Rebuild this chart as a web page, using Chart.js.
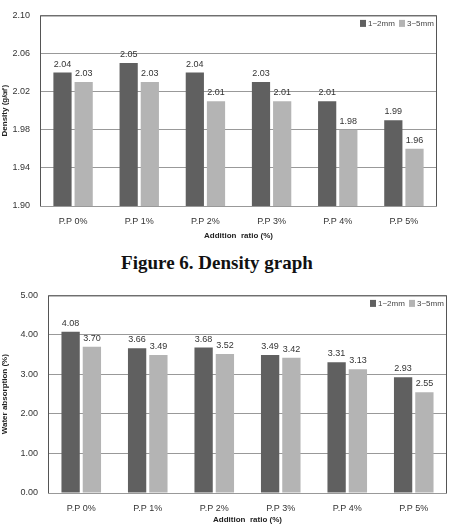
<!DOCTYPE html>
<html>
<head>
<meta charset="utf-8">
<script src="https://cdn.jsdelivr.net/npm/chart.js@4.4.0/dist/chart.umd.min.js"></script>
<style>
    body { margin: 0; background: #fff; width: 451px; height: 529px; position: relative; overflow: hidden; }
    .box { position: absolute; left: 0; width: 451px; }
    #caption { position: absolute; left: 0; width: 434px; top: 252px; text-align: center;
        font-family: "Liberation Serif", "Times New Roman", serif; font-weight: bold; font-size: 19px; color: #111; }
</style>
</head>
<body>
<div class="box" style="top:0;height:245px"><canvas id="densityChart" width="451" height="245"></canvas></div>
<div id="caption">Figure 6. Density graph</div>
<div class="box" style="top:280px;height:249px"><canvas id="waterChart" width="451" height="249"></canvas></div>
<script>
// 数据
const categories = ['P.P 0%', 'P.P 1%', 'P.P 2%', 'P.P 3%', 'P.P 4%', 'P.P 5%'];
const seriesNames = ['1~2mm', '3~5mm'];
const densitySmall = [2.04, 2.05, 2.04, 2.03, 2.01, 1.99];
const densityLarge = [2.03, 2.03, 2.01, 2.01, 1.98, 1.96];
const densityTicks = [1.90, 1.94, 1.98, 2.02, 2.06, 2.10];
const waterSmall = [4.08, 3.66, 3.68, 3.49, 3.31, 2.93];
const waterLarge = [3.70, 3.49, 3.52, 3.42, 3.13, 2.55];
const waterTicks = [0, 1, 2, 3, 4, 5];

const DARK = '#606060';
const LIGHT = '#b4b4b4';
const FONT = '"Liberation Sans", Arial, sans-serif';

// 柱顶数值标签 + 图框 + 图例（画在绘图区右上角）
const barLabels = {
    id: 'barLabels',
    afterDatasetsDraw(chart) {
        const ctx = chart.ctx;
        const a = chart.chartArea;
        ctx.save();
        ctx.font = '9px ' + FONT;
        ctx.fillStyle = '#333';
        ctx.textAlign = 'center';
        ctx.textBaseline = 'bottom';
        chart.data.datasets.forEach((ds, i) => {
            chart.getDatasetMeta(i).data.forEach((bar, j) => {
                ctx.fillText(ds.data[j].toFixed(2), bar.x, bar.y - 4);
            });
        });
        // 图框
        ctx.strokeStyle = '#555';
        ctx.lineWidth = 1;
        ctx.beginPath();
        ctx.moveTo(a.left + 0.5, a.bottom);
        ctx.lineTo(a.left + 0.5, a.top + 0.5);
        ctx.lineTo(a.right - 0.5, a.top + 0.5);
        ctx.lineTo(a.right - 0.5, a.bottom);
        ctx.stroke();
        // 图例
        ctx.font = '8px ' + FONT;
        ctx.textAlign = 'left';
        ctx.textBaseline = 'middle';
        let x = a.right - 77;
        const y = a.top + 8;
        chart.data.datasets.forEach(ds => {
            ctx.fillStyle = ds.backgroundColor;
            ctx.fillRect(x, y - 3.5, 6, 7);
            ctx.fillStyle = '#444';
            ctx.fillText(ds.label, x + 8, y);
            x += 39;
        });
        ctx.restore();
    }
};

function makeChart(id, small, large, ticks, yTitle, opts) {
    const ctx = document.getElementById(id).getContext('2d');
    return new Chart(ctx, {
        type: 'bar',
        data: {
            labels: categories,
            datasets: [
                { label: seriesNames[0], data: small, backgroundColor: DARK,
                  categoryPercentage: 0.64, barPercentage: 0.86 },
                { label: seriesNames[1], data: large, backgroundColor: LIGHT,
                  categoryPercentage: 0.64, barPercentage: 0.86 }
            ]
        },
        options: {
            responsive: false,
            animation: false,
            layout: { padding: { top: opts.top, right: opts.right, left: 0, bottom: 0 } },
            scales: {
                x: {
                    grid: { display: false },
                    border: { display: false },
                    ticks: { color: '#333', font: { family: FONT, size: 9 }, padding: opts.tp },
                    title: { display: true, text: 'Addition  ratio (%)', color: '#222',
                             font: { family: FONT, size: 8, weight: 'bold' }, padding: { top: opts.ttp } },
                    afterFit: s => { s.height = opts.xh; }
                },
                y: {
                    min: ticks[0],
                    max: ticks[ticks.length - 1],
                    afterBuildTicks: s => { s.ticks = ticks.map(v => ({ value: v })); },
                    grid: { color: '#999', drawTicks: false },
                    border: { display: false },
                    ticks: { color: '#333', font: { family: FONT, size: 9 }, padding: 10,
                             callback: v => v.toFixed(2) },
                    title: { display: true, text: yTitle, color: '#222',
                             font: { family: FONT, size: 8, weight: 'bold' }, padding: 0 },
                    afterFit: s => { s.width = opts.yw; }
                }
            },
            plugins: {
                legend: { display: false },
                tooltip: { enabled: false }
            }
        },
        plugins: [barLabels]
    });
}

makeChart('densityChart', densitySmall, densityLarge, densityTicks, 'Density (g/㎤)',
    { top: 5, right: 14, xh: 39, yw: 40, tp: 2, ttp: 6 });
makeChart('waterChart', waterSmall, waterLarge, waterTicks, 'Water absorption (%)',
    { top: 13, right: 4, xh: 36, yw: 48, tp: 2, ttp: 9 });
</script>
</body>
</html>
